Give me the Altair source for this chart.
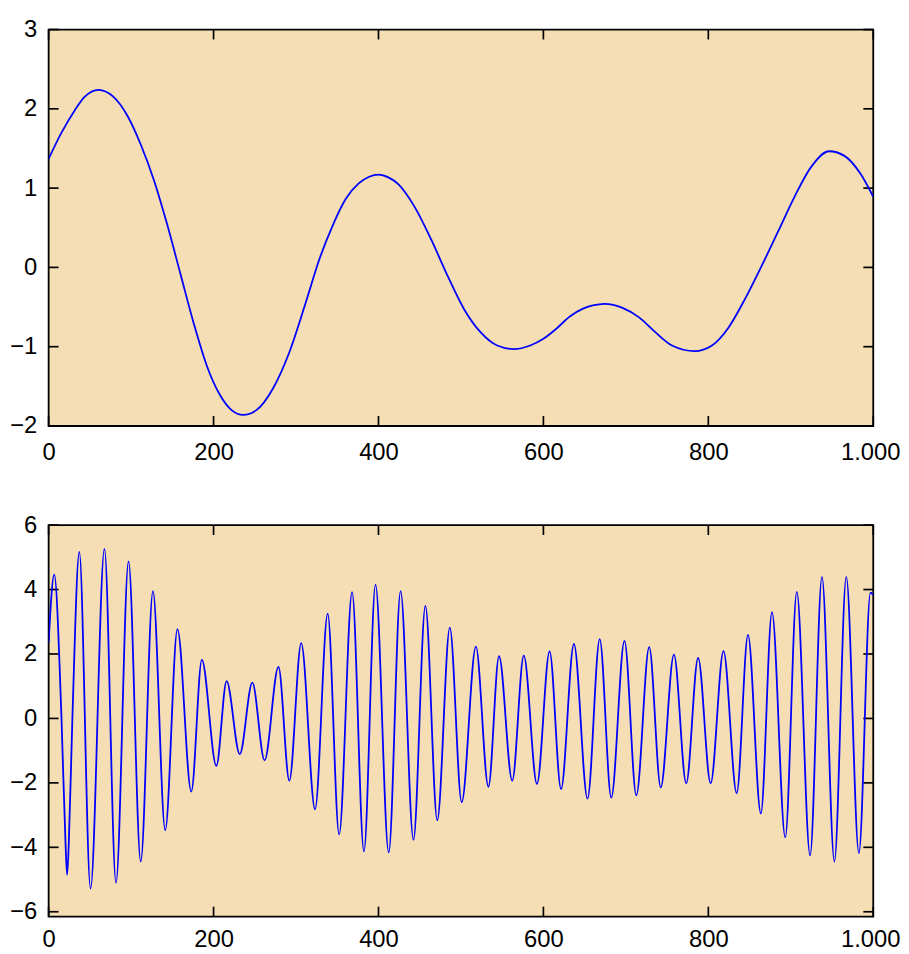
import altair as alt
import pandas as pd

# ---------------- data ----------------
top_x = [0, 15.6, 31.6, 43.6, 60.5, 77.7, 95.7, 111.7, 127.7, 143.8,
         159.8, 175.8, 191.8, 207.8, 221.8, 235.8, 251.9, 271.9, 291.9, 311.9,
         327.9, 343.9, 360, 376, 388, 400.4, 412, 424, 444, 464, 484, 504,
         524, 544, 564, 584, 600, 616, 632, 648, 660, 674, 696,
         716, 736, 756, 783.5, 804.4, 824.4, 844.4, 864.5, 884.5, 904.5,
         924.5, 946.5, 964.6, 984.6, 1000]
top_y = [1.37, 1.70, 1.98, 2.15, 2.24, 2.16, 1.91, 1.55, 1.10, 0.54,
         -0.08, -0.70, -1.24, -1.61, -1.80, -1.86, -1.80, -1.53, -1.07, -0.44,
         0.09, 0.515, 0.86, 1.06, 1.14, 1.17, 1.135, 1.05, 0.76, 0.35, -0.11, -0.53,
         -0.82, -0.985, -1.03, -0.985, -0.90, -0.77, -0.62, -0.52, -0.48, -0.46, -0.51,
         -0.63, -0.82, -0.985, -1.056, -0.985, -0.76, -0.40, 0.015, 0.45, 0.89,
         1.265, 1.465, 1.41, 1.18, 0.89]

bot_x = [0, 6.8, 15.6, 20.5, 22.4, 24.4, 28.8, 37.2, 50.8, 67.7,
         81.7, 96.9, 111.7, 126.5, 141.4, 156.2, 173.0, 185.8, 203.4, 215.8,
         231.8, 247.0, 261.9, 278.7, 291.9, 306.3, 323.1, 338.4, 352.3, 368.0,
         382.4, 396.4, 412.4, 426.8, 442.4, 456.9, 471.3, 486.5, 500.9, 518.1,
         533.3, 546.2, 562.2, 576.2, 592.2, 607.5, 621.4, 637.0, 653.5, 668.3,
         682.3, 698.3, 712.7, 728.3, 742.3, 758.3, 773.2, 787.6, 802.8, 818.4,
         834.4, 848.1, 863.7, 877.2, 893.3, 907.3, 923.4, 937.8, 952.9, 967.3,
         982.6, 996.6, 1000]
bot_y = [2.36, 4.46, 0.0, -3.9, -4.85, -3.9, 0.0, 5.17, -5.28, 5.26,
         -5.10, 4.87, -4.44, 3.95, -3.47, 2.77, -2.27, 1.82, -1.47, 1.16,
         -1.11, 1.11, -1.30, 1.60, -1.93, 2.34, -2.82, 3.25, -3.60, 3.92,
         -4.13, 4.15, -4.16, 3.95, -3.77, 3.49, -3.16, 2.82, -2.60, 2.23,
         -2.12, 1.93, -1.93, 1.95, -2.03, 2.08, -2.19, 2.31, -2.49, 2.46,
         -2.46, 2.41, -2.39, 2.21, -2.14, 1.98, -2.01, 1.88, -2.01, 2.09,
         -2.32, 2.59, -2.95, 3.30, -3.69, 3.93, -4.25, 4.39, -4.44, 4.39,
         -4.18, 3.90, 3.84]

x_ticks = [0, 200, 400, 600, 800, 1000]
top_y_ticks = [-2, -1, 0, 1, 2, 3]
bot_y_ticks = [-6, -4, -2, 0, 2, 4, 6]
x_domain = [0, 1000]
top_y_domain = [-2, 3]
bot_y_domain = [-6.15, 6]

# ---------------- styling ----------------
W = 832
H_TOP = 400
H_BOT = 395
TICK_LEN = 10
FONT = "Liberation Sans"
BG = "#f5deb3"
LINE = "#0000ff"


def make_panel(xs, ys, yticks, ydomain, h, xpad):
    xscale = alt.Scale(domain=x_domain, nice=False, zero=False)
    yscale = alt.Scale(domain=ydomain, nice=False, zero=False)
    xaxis = alt.Axis(values=x_ticks, ticks=False, tickSize=0, domain=False,
                     grid=False, title=None, labelFont=FONT, labelFontSize=24,
                     labelColor="black", labelPadding=xpad, labelFlush=False,
                     labelOverlap=False,
                     labelExpr="replace(format(datum.value, ','), ',', '.')",
                     labelOffset=alt.condition("datum.value == 1000",
                                               alt.value(-3), alt.value(0)))
    yaxis = alt.Axis(values=yticks, ticks=False, tickSize=0, domain=False,
                     grid=False, title=None, labelFont=FONT, labelFontSize=24,
                     labelColor="black", labelPadding=12, labelFlush=False,
                     labelOverlap=False)
    x_enc = alt.X("x:Q", scale=xscale, axis=xaxis)
    y_enc = alt.Y("y:Q", scale=yscale, axis=yaxis)

    xt = pd.DataFrame({"x": x_ticks})
    yt = pd.DataFrame({"y": yticks})
    rule = dict(color="black", strokeWidth=1.7)
    t_top = alt.Chart(xt).mark_rule(**rule).encode(
        x=x_enc, y=alt.value(0), y2=alt.value(TICK_LEN))
    t_bot = alt.Chart(xt).mark_rule(**rule).encode(
        x=x_enc, y=alt.value(h), y2=alt.value(h - TICK_LEN))
    t_left = alt.Chart(yt).mark_rule(**rule).encode(
        y=y_enc, x=alt.value(0), x2=alt.value(TICK_LEN))
    t_right = alt.Chart(yt).mark_rule(**rule).encode(
        y=y_enc, x=alt.value(W), x2=alt.value(W - TICK_LEN))

    df = pd.DataFrame({"x": xs, "y": ys})
    line = alt.Chart(df).mark_line(color=LINE, strokeWidth=1.8,
                                   interpolate="monotone", clip=True).encode(
        x=x_enc, y=y_enc)
    return alt.layer(t_top, t_bot, t_left, t_right, line).properties(
        width=W, height=h)


top = make_panel(top_x, top_y, top_y_ticks, top_y_domain, H_TOP, 14.5)
bottom = make_panel(bot_x, bot_y, bot_y_ticks, bot_y_domain, H_BOT, 11.5)

chart = (
    alt.vconcat(top, bottom, spacing=47)
    .properties(padding={"left": 0, "top": 4.5, "right": 0, "bottom": -5})
    .configure(background="white")
    .configure_view(fill=BG, stroke="black", strokeWidth=1.8)
)

chart.save("out.html", embed_options={"renderer": "svg", "actions": False})
